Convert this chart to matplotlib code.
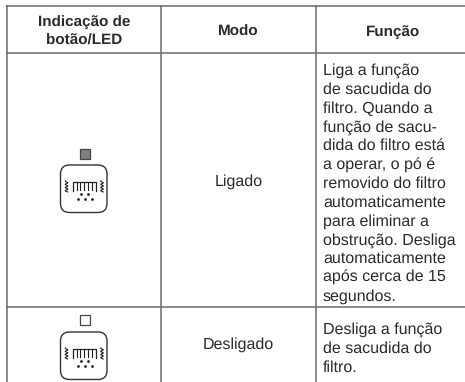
import numpy as np
import matplotlib
matplotlib.use('Agg')
import matplotlib.pyplot as plt
from matplotlib.patches import FancyBboxPatch, Rectangle

plt.rcParams['font.family'] = ['Liberation Sans', 'DejaVu Sans']
plt.rcParams['text.hinting'] = 'none'

headers = ['Indicação de\nbotão/LED', 'Modo', 'Função']
modes = ['Ligado', 'Desligado']
func_on = ['Liga a função', 'de sacudida do', 'filtro. Quando a', 'função de sacu-', 'dida do filtro está',
           'a operar, o pó é', 'removido do filtro', 'automaticamente', 'para eliminar a',
           'obstrução. Desliga', 'automaticamente', 'após cerca de 15', 'segundos.']
func_off = ['Desliga a função', 'de sacudida do', 'filtro.']
line_col = '#6b6b6b'
text_col = '#2b2b2b'
fs = 11.5

fig = plt.figure(figsize=(4.65, 3.82), dpi=100)
ax = fig.add_axes([0, 0, 1, 1])
ax.set_xlim(0, 465)
ax.set_ylim(382, 0)
ax.axis('off')

# table grid
for y in [6, 52.7, 307]:
    ax.plot([6, 465], [y, y], color=line_col, lw=1.1, solid_capstyle='butt')
for x in [7, 161, 315.5]:
    ax.plot([x, x], [5, 382], color=line_col, lw=1.1, solid_capstyle='butt')

# header
ax.text(84, 22, headers[0].split('\n')[0], ha='center', va='center', fontsize=11, fontweight='bold', color=text_col)
ax.text(84, 41, headers[0].split('\n')[1], ha='center', va='center', fontsize=11, fontweight='bold', color=text_col)
ax.text(238.5, 32, headers[1], ha='center', va='center', fontsize=11, fontweight='bold', color=text_col)
ax.text(393, 32, headers[2], ha='center', va='center', fontsize=11, fontweight='bold', color=text_col)

ax.text(238.5, 182, modes[0], ha='center', va='center', fontsize=fs, color=text_col)
ax.text(238.5, 345, modes[1], ha='center', va='center', fontsize=fs, color=text_col)

# function column
for i, s in enumerate(func_on):
    ax.text(323, 71 + i * 18.8, s, ha='left', va='center', fontsize=fs, color=text_col)
for i, s in enumerate(func_off):
    ax.text(323, 330 + i * 18.9, s, ha='left', va='center', fontsize=fs, color=text_col)


def icon(top, led_top, led_col):
    ax.add_patch(Rectangle((79.5, led_top), 10, 10, fc=led_col, ec='#444444', lw=0.9))
    ax.add_patch(FancyBboxPatch((60.5, top), 46.5, 47.5, boxstyle='round,pad=0,rounding_size=9',
                                fc='white', ec='#333333', lw=1.0))
    # filter comb
    fy = top + 17
    ax.plot([72.5, 72.5, 96, 96], [fy + 9, fy, fy, fy + 9], color='#222222', lw=0.9)
    for x in np.arange(76.5, 95, 3.9):
        ax.plot([x, x], [fy, fy + 8], color='#222222', lw=0.8)
    # shake marks
    yy = np.linspace(fy - 1, fy + 10, 30)
    for x0 in [66.5, 102]:
        ax.plot(x0 + 1.3 * np.sin((yy - fy) * 2.0), yy, color='#222222', lw=0.8)
    # dust
    dx = [77.5, 84.5, 91.5, 81, 87.5]
    dy = [top + 34, top + 34, top + 34, top + 28.5, top + 28.5]
    ax.scatter(dx, dy, s=4, color='#222222', linewidths=0)


icon(165, 148.5, '#808080')
icon(332, 315, 'white')

fig.savefig('out.png', dpi=100)
plt.close()
